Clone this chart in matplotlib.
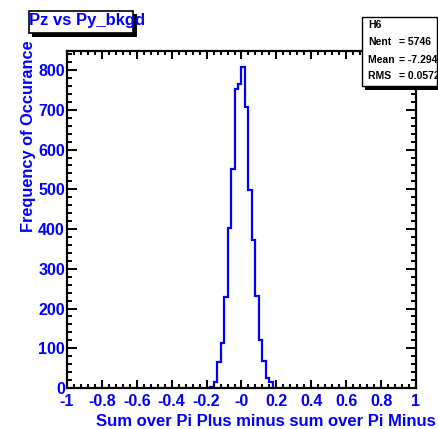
import numpy as np
import matplotlib
matplotlib.use("Agg")
import matplotlib.pyplot as plt
from matplotlib.patches import Rectangle

plt.rcParams['font.family'] = ['Liberation Sans', 'DejaVu Sans']
plt.rcParams['font.weight'] = 'bold'

# histogram contents (bins of width 0.02, first bin starts at -0.20)
bin_start = -0.20
bin_width = 0.02
counts = [1, 3, 16, 66, 114, 230, 403, 551, 752, 765,
          807, 707, 498, 372, 232, 122, 68, 24, 16]

xticks = [-1, -0.8, -0.6, -0.4, -0.2, 0, 0.2, 0.4, 0.6, 0.8, 1]
xticklabels = ['-1', '-0.8', '-0.6', '-0.4', '-0.2', '-0', '0.2', '0.4', '0.6', '0.8', '1']
yticks = [0, 100, 200, 300, 400, 500, 600, 700, 800]

title = "Pz vs Py_bkgd"
hist_name = "H6"
stats_labels = ["Nent", "Mean ", "RMS  "]
stats_values = ["5746", "-7.294e-04", "0.05721"]

W, H = 439, 429
blue = '#0000ff'

def fx(x):
    return x / W

def fy(y):
    return 1 - y / H

fig = plt.figure(figsize=(W / 100, H / 100), dpi=100)
ax = fig.add_axes([fx(67), fy(388), (416 - 67) / W, (388 - 51) / H])

edges = bin_start + bin_width * np.arange(len(counts) + 1)
ax.stairs(counts, edges, color=blue, lw=1.6, baseline=0)

ax.set_xlim(-1, 1)
ax.set_ylim(0, 848)
ax.set_xticks(xticks)
ax.set_xticklabels(xticklabels)
ax.set_xticks(np.arange(-1, 1.001, 0.04), minor=True)
ax.set_yticks(yticks)
ax.set_yticks(np.arange(0, 848, 20), minor=True)

for s in ax.spines.values():
    s.set_linewidth(1.6)

ax.tick_params(axis='both', which='both', direction='in', top=True, right=True,
               width=1.4, colors='black', labelcolor=blue, labelsize=11.5)
ax.tick_params(axis='x', which='major', length=6, pad=4)
ax.tick_params(axis='x', which='minor', length=3)
ax.tick_params(axis='y', which='major', length=7, pad=1.5)
ax.tick_params(axis='y', which='minor', length=3.5)
for lab in ax.get_xticklabels() + ax.get_yticklabels():
    lab.set_fontweight('bold')

# axis titles
fig.text(fx(436), fy(422), "Sum over Pi Plus minus sum over Pi Minus",
         ha='right', va='center', color=blue, fontsize=12, fontweight='bold')
fig.text(fx(29), fy(40), "Frequency of Occurance", rotation=90,
         ha='center', va='top', color=blue, fontsize=11.8, fontweight='bold')

# title box with shadow
fig.add_artist(Rectangle((fx(32), fy(36.5)), (137 - 32) / W, (36.5 - 14) / H,
                         transform=fig.transFigure, facecolor='black',
                         edgecolor='none', zorder=4))
fig.add_artist(Rectangle((fx(28.5), fy(33)), (133 - 28.5) / W, (33 - 11) / H,
                         transform=fig.transFigure, facecolor='white',
                         edgecolor='black', lw=1.2, zorder=5))
fig.text(fx(29), fy(21), title, ha='left', va='center', color=blue,
         fontsize=12, fontweight='bold', zorder=6)

# stats box with shadow
fig.add_artist(Rectangle((fx(365), fy(89.5)), (441 - 365) / W, (89.5 - 20) / H,
                         transform=fig.transFigure, facecolor='black',
                         edgecolor='none', zorder=4))
fig.add_artist(Rectangle((fx(362), fy(86)), (437 - 362) / W, (86 - 16.5) / H,
                         transform=fig.transFigure, facecolor='white',
                         edgecolor='black', lw=1.0, zorder=5))
fig.text(fx(368), fy(25), hist_name, ha='left', va='center', fontsize=7.5,
         fontweight='bold', zorder=6)
ys = [42, 60, 76]
for lab, val, yy in zip(stats_labels, stats_values, ys):
    fig.text(fx(368), fy(yy), lab, ha='left', va='center', fontsize=7.5,
             fontweight='bold', zorder=6)
    fig.text(fx(399), fy(yy), "= " + val, ha='left', va='center', fontsize=7.5,
             fontweight='bold', zorder=6)

fig.savefig("out.png", dpi=100)
